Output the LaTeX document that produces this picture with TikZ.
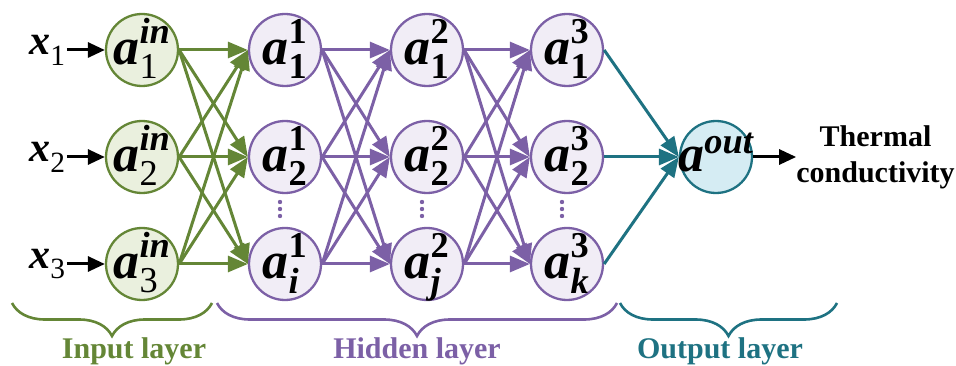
\documentclass[tikz,border=0pt]{standalone}
\usepackage{fontspec}
\setmainfont{Liberation Serif}
\usepackage{amsmath}
\usetikzlibrary{arrows.meta,positioning,decorations.pathreplacing}

\definecolor{verde}{RGB}{100,134,54}
\definecolor{verdeclaro}{RGB}{234,240,222}
\definecolor{morado}{RGB}{124,96,166}
\definecolor{moradoclaro}{RGB}{241,237,246}
\definecolor{turquesa}{RGB}{30,114,130}
\definecolor{turquesaclaro}{RGB}{213,236,243}

% a con super- y subindice; caja de tamano nulo para no agrandar el circulo
\newcommand{\neur}[2]{\smash{\makebox[0pt]{\raisebox{-15pt}{%
    $\text{\itshape a}^{\text{\raisebox{7pt}{#1}}}_{\text{\raisebox{-4pt}{#2}}}$}}}}

\begin{document}
\begin{tikzpicture}[x=1pt, y=-1pt,
    neurona/.style={circle, draw, line width=2.3pt, minimum size=72pt,
        inner sep=0pt, font=\fontsize{52}{52}\selectfont\bfseries},
    flecha/.style={line width=3pt, -{Triangle[length=20pt,width=16pt]}},
    llave/.style={decorate, decoration={brace, mirror, amplitude=33pt},
        line width=2.6pt},
    etiqueta/.style={font=\fontsize{30}{30}\selectfont\bfseries, anchor=base}]

\useasboundingbox (0,0) rectangle (956,366);

% ================================================================
%  Capa de entrada — x = 142, filas y = 50 / 157 / 264
% ================================================================
\node[neurona, draw=verde, fill=verdeclaro] (e1) at (142, 50)  {\neur{\itshape in}{\mdseries 1}};
\node[neurona, draw=verde, fill=verdeclaro] (e2) at (142, 157) {\neur{\itshape in}{\mdseries 2}};
\node[neurona, draw=verde, fill=verdeclaro] (e3) at (142, 264) {\neur{\itshape in}{\mdseries 3}};

% Entradas x_i
\foreach \k in {1,2,3}{
    \node[left=38pt of e\k, inner sep=1pt, font=\fontsize{42}{42}\selectfont\bfseries]
        (x\k) {$\text{\itshape x}_{\text{\mdseries \k}}$};
    \draw[line width=3pt, -{Triangle[length=17pt,width=15pt]}] (x\k.east) -- (e\k.west);
}

% ================================================================
%  Capas ocultas — x = 285 / 427 / 567
% ================================================================
\node[neurona, draw=morado, fill=moradoclaro] (a11) at (285, 50)  {\neur{1}{1}};
\node[neurona, draw=morado, fill=moradoclaro] (a12) at (285, 157) {\neur{1}{2}};
\node[neurona, draw=morado, fill=moradoclaro] (a13) at (285, 264) {\neur{1}{\itshape i}};

\node[neurona, draw=morado, fill=moradoclaro] (a21) at (427, 50)  {\neur{2}{1}};
\node[neurona, draw=morado, fill=moradoclaro] (a22) at (427, 157) {\neur{2}{2}};
\node[neurona, draw=morado, fill=moradoclaro] (a23) at (427, 264) {\neur{2}{\itshape j}};

\node[neurona, draw=morado, fill=moradoclaro] (a31) at (567, 50)  {\neur{3}{1}};
\node[neurona, draw=morado, fill=moradoclaro] (a32) at (567, 157) {\neur{3}{2}};
\node[neurona, draw=morado, fill=moradoclaro] (a33) at (567, 264) {\neur{3}{\itshape k}};

% Puntos suspensivos entre la 2a y la 3a neurona
\foreach \xval in {280, 422, 562}{
    \foreach \yval in {202, 209, 216}{
        \fill[morado] (\xval, \yval) circle (2.2pt);
    }
}

% ================================================================
%  Capa de salida
% ================================================================
\node[neurona, draw=turquesa, fill=turquesaclaro] (sal) at (716, 157)
    {\smash{\makebox[0pt]{\raisebox{-15pt}{$\text{\itshape a}^{\text{\raisebox{4pt}{\itshape out}}}$}}}};
\node[right=43pt of sal, inner sep=0pt, align=center,
      font=\fontsize{30}{36}\selectfont\bfseries] (tc) {Thermal\\conductivity};
\draw[line width=3pt, -{Triangle[length=17pt,width=15pt]}] (sal.east) -- (tc.west);

% Conexiones entre capas
\foreach \i in {1,2,3}{
    \foreach \j in {1,2,3}{
        \draw[flecha, verde]  (e\i.east)  -- (a1\j.west);
        \draw[flecha, morado] (a1\i.east) -- (a2\j.west);
        \draw[flecha, morado] (a2\i.east) -- (a3\j.west);
    }
    \draw[flecha, turquesa] (a3\i.east) -- (sal.west);
}

% ================================================================
%  Llaves y nombres de capa
% ================================================================
\draw[llave, verde]    (12, 303)  -- (212, 303);
\draw[llave, morado]   (217, 303) -- (617, 303);
\draw[llave, turquesa] (620, 303) -- (837, 303);

\node[etiqueta, text=verde]    (lent) at (134, 358) {Input layer};
\node[etiqueta, text=morado]   (locu) at (417, 358) {Hidden layer};
\node[etiqueta, text=turquesa] (lsal) at (720, 358) {Output layer};

\end{tikzpicture}
\end{document}
